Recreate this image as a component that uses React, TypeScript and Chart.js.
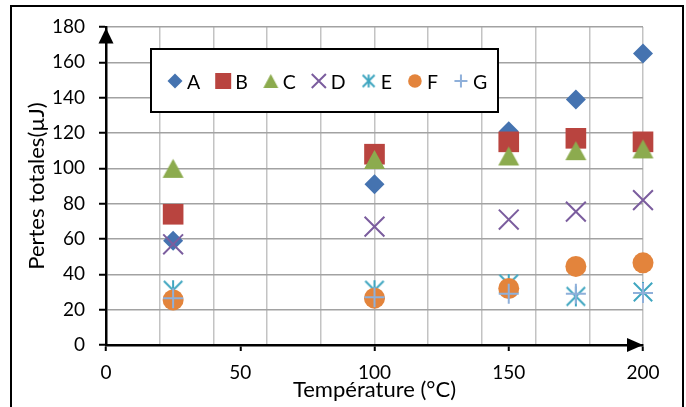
import React, { useEffect, useRef } from 'react';
import { Chart, registerables } from 'chart.js';
import { drawPoint } from 'chart.js/helpers';

Chart.register(...registerables);

// ---- data ----
const temperatures = [25, 100, 150, 175, 200];
const seriesNames = ['A', 'B', 'C', 'D', 'E', 'F', 'G'];
const seriesA = [59, 91, 121, 139, 165];
const seriesB = [74, 108, 115, 117, 115];
const seriesC = [100, 105, 107, 110, 111];
const seriesD = [57, 67, 71, 75.5, 82];
const seriesE = [31, 31, 34.5, 27.5, 30];
const seriesF = [25.5, 26.5, 32, 44.5, 46.5];
const seriesG = [26.5, 27, 29, 29, 29.5];
const seriesValues = [seriesA, seriesB, seriesC, seriesD, seriesE, seriesF, seriesG];
const seriesColors = ['#4573B0', '#B9443F', '#8CAB4E', '#7B5D9E', '#3FA6C0', '#E3843C', '#8FB0DA'];

const xTitle = 'Température (°C)';
const yTitle = 'Pertes totales(µJ)';
const FONT = 'Lato';

function triangleCanvas(color: string, w: number, h: number) {
  const c = document.createElement('canvas');
  c.width = Math.ceil(w) + 2;
  c.height = Math.ceil(h) + 2;
  const g = c.getContext('2d')!;
  g.fillStyle = color;
  g.beginPath();
  g.moveTo(c.width / 2, 1);
  g.lineTo(1 + w, 1 + h);
  g.lineTo(1, 1 + h);
  g.closePath();
  g.fill();
  return c;
}

function starCanvas(color: string, s: number, lw: number) {
  const size = Math.ceil(2 * s) + 4;
  const c = document.createElement('canvas');
  c.width = size;
  c.height = size;
  const g = c.getContext('2d')!;
  const m = size / 2;
  const d = s * 0.92;
  g.strokeStyle = color;
  g.lineWidth = lw;
  g.beginPath();
  g.moveTo(m - d, m - d); g.lineTo(m + d, m + d);
  g.moveTo(m + d, m - d); g.lineTo(m - d, m + d);
  g.moveTo(m, m - s); g.lineTo(m, m + s);
  g.stroke();
  return c;
}

type Spec = { style: any; r: number; lineW: number; legendStyle: any; lr: number };

function buildSpecs(): Spec[] {
  return [
    { style: 'rectRot', r: 10, lineW: 0, legendStyle: 'rectRot', lr: 7.5 },
    { style: 'rect', r: 14.6, lineW: 0, legendStyle: 'rect', lr: 11.3 },
    { style: triangleCanvas(seriesColors[2], 21, 19), r: 10, lineW: 0, legendStyle: triangleCanvas(seriesColors[2], 15, 14), lr: 7 },
    { style: 'crossRot', r: 14, lineW: 2, legendStyle: 'crossRot', lr: 10 },
    { style: starCanvas(seriesColors[4], 10, 2), r: 10, lineW: 2, legendStyle: starCanvas(seriesColors[4], 6.5, 2), lr: 7 },
    { style: 'circle', r: 10.5, lineW: 0, legendStyle: 'circle', lr: 6.8 },
    { style: 'cross', r: 10, lineW: 2, legendStyle: 'cross', lr: 6.5 },
  ];
}

export default function App() {
  const ref = useRef<HTMLCanvasElement | null>(null);

  useEffect(() => {
    document.body.style.margin = '0';
    const canvas = ref.current!;
    const specs = buildSpecs();

    const decor = {
      id: 'decor',
      afterDatasetsDraw(chart: any) {
        const ctx = chart.ctx as CanvasRenderingContext2D;
        ctx.save();
        // legend box
        const lx = 151, ly = 49, lw = 347, lh = 63;
        ctx.fillStyle = '#fff';
        ctx.fillRect(lx, ly, lw, lh);
        ctx.lineWidth = 2;
        ctx.strokeStyle = '#000';
        ctx.strokeRect(lx, ly, lw, lh);
        ctx.font = `19.5px ${FONT}`;
        ctx.textBaseline = 'alphabetic';
        ctx.textAlign = 'left';
        let mx = 175;
        const cy = 81;
        seriesNames.forEach((name, i) => {
          const sp = specs[i];
          ctx.fillStyle = seriesColors[i];
          ctx.strokeStyle = seriesColors[i];
          ctx.lineWidth = sp.lineW || 1;
          drawPoint(ctx, { pointStyle: sp.legendStyle, radius: sp.lr, borderWidth: sp.lineW, rotation: 0 } as any, mx, cy);
          const tx = mx + 12;
          ctx.fillStyle = '#000';
          ctx.fillText(name, tx, 88.5);
          mx = tx + ctx.measureText(name).width + 23;
        });
        ctx.restore();
      },
      afterDraw(chart: any) {
        const ctx = chart.ctx as CanvasRenderingContext2D;
        ctx.save();
        ctx.fillStyle = '#000';
        // y arrow
        ctx.beginPath();
        ctx.moveTo(106, 28);
        ctx.lineTo(113.5, 43.5);
        ctx.lineTo(98.5, 43.5);
        ctx.closePath();
        ctx.fill();
        // x arrow
        ctx.beginPath();
        ctx.moveTo(643, 345);
        ctx.lineTo(627, 338);
        ctx.lineTo(627, 352);
        ctx.closePath();
        ctx.fill();
        // outer frame
        ctx.lineWidth = 2;
        ctx.strokeStyle = '#000';
        ctx.strokeRect(11, 6, 672, 420);
        ctx.restore();
      },
    };

    const datasets = seriesNames.map((name, i) => ({
      label: name,
      data: temperatures.map((t, j) => ({ x: t, y: seriesValues[i][j] })),
      pointStyle: specs[i].style,
      pointRadius: specs[i].r,
      pointHoverRadius: specs[i].r,
      pointBorderWidth: specs[i].lineW,
      backgroundColor: seriesColors[i],
      borderColor: seriesColors[i],
      showLine: false,
      clip: false as any,
      order: seriesNames.length - i,
    }));

    const chart = new Chart(canvas, {
      type: 'scatter',
      data: { datasets },
      options: {
        animation: false,
        responsive: false,
        devicePixelRatio: 1,
        layout: { padding: { left: 0, top: 27, right: 43, bottom: 0 } },
        plugins: { legend: { display: false }, tooltip: { enabled: false } },
        events: [],
        scales: {
          x: {
            type: 'linear',
            min: 0,
            max: 200,
            afterFit: (s: any) => { s.height = 62; },
            ticks: {
              stepSize: 10,
              autoSkip: false,
              maxRotation: 0,
              minRotation: 0,
              padding: 10.5,
              color: '#000',
              font: { family: FONT, size: 19 },
              callback: (v: any) => (Number(v) % 50 === 0 ? String(v) : ''),
            },
            grid: {
              color: (c: any) => (c.tick && c.tick.value % 20 === 0 ? '#c3c3c3' : 'rgba(0,0,0,0)'),
              lineWidth: 1.5,
              drawTicks: true,
              tickLength: 6,
              tickWidth: 2,
              tickColor: (c: any) => (c.tick && c.tick.value % 50 === 0 ? '#000' : 'rgba(0,0,0,0)'),
            },
            border: { display: true, color: '#000', width: 2.5 },
            title: {
              display: true,
              text: xTitle,
              color: '#000',
              font: { family: FONT, size: 22 },
              padding: { top: 0, bottom: 4 },
            },
          },
          y: {
            type: 'linear',
            min: 0,
            max: 180,
            afterFit: (s: any) => { s.width = 106; },
            ticks: {
              stepSize: 20,
              padding: 14,
              color: '#000',
              font: { family: FONT, size: 19 },
            },
            grid: {
              color: '#a2a2a2',
              lineWidth: 1.5,
              drawTicks: true,
              tickLength: 7,
              tickWidth: 2,
              tickColor: '#000',
            },
            border: { display: true, color: '#000', width: 2.5 },
            title: {
              display: true,
              text: yTitle,
              color: '#000',
              font: { family: FONT, size: 22 },
              padding: { top: 24, bottom: 0 },
            },
          },
        },
      } as any,
      plugins: [decor],
    });

    let alive = true;
    if ((document as any).fonts && (document as any).fonts.load) {
      Promise.all([
        (document as any).fonts.load(`19px ${FONT}`),
        (document as any).fonts.load(`22px ${FONT}`),
      ]).then(() => { if (alive) chart.update(); }).catch(() => {});
    }

    return () => {
      alive = false;
      chart.destroy();
    };
  }, []);

  return (
    <div style={{ width: 686, height: 407, background: '#fff', position: 'relative' }}>
      <canvas ref={ref} width={686} height={407} style={{ display: 'block' }} />
    </div>
  );
}
